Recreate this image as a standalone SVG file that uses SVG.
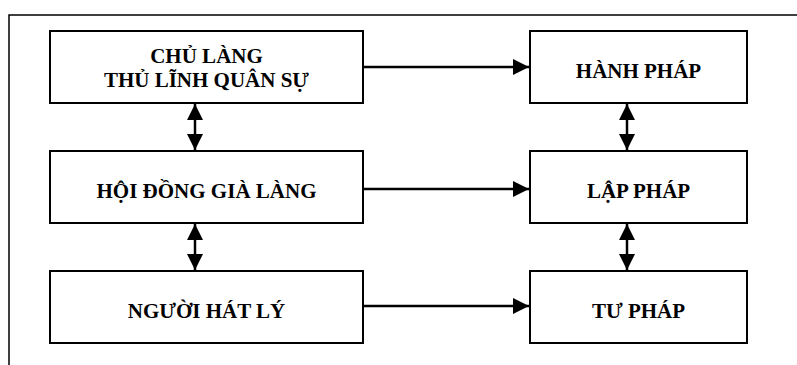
<svg xmlns="http://www.w3.org/2000/svg" width="797" height="365" viewBox="0 0 797 365">
<style>
.box{fill:#fff;stroke:#000;stroke-width:2}
.t{font-family:"Liberation Serif","Times New Roman",serif;font-weight:bold;font-size:21px;text-anchor:middle;fill:#000}
.c{stroke:#000;stroke-width:2.5;fill:none}
</style>
<defs>
<marker id="ah" viewBox="0 0 10 10" refX="10" refY="5" markerWidth="6.4" markerHeight="6.4" markerUnits="strokeWidth" orient="auto-start-reverse">
<path d="M0,0 L10,5 L0,10 Z" fill="#000"/>
</marker>
</defs>
<g id="frame"><path d="M9,365 V15 H797" fill="none" stroke="#000" stroke-width="1.5"/></g>
<g id="connectors">
<line class="c" x1="363" y1="67" x2="529" y2="67" marker-end="url(#ah)"/>
<line class="c" x1="363" y1="189" x2="529" y2="189" marker-end="url(#ah)"/>
<line class="c" x1="363" y1="306" x2="529" y2="306" marker-end="url(#ah)"/>
<line class="c" x1="195" y1="104" x2="195" y2="150" marker-start="url(#ah)" marker-end="url(#ah)"/>
<line class="c" x1="195" y1="224" x2="195" y2="270" marker-start="url(#ah)" marker-end="url(#ah)"/>
<line class="c" x1="627" y1="104" x2="627" y2="150" marker-start="url(#ah)" marker-end="url(#ah)"/>
<line class="c" x1="627" y1="224" x2="627" y2="270" marker-start="url(#ah)" marker-end="url(#ah)"/>
</g>
<g id="chu-lang"><rect class="box" x="50" y="31" width="313" height="72"/><text class="t" x="206.5" y="63">CHỦ LÀNG</text><text class="t" x="206.5" y="87">THỦ LĨNH QUÂN SỰ</text></g>
<g id="hoi-dong"><rect class="box" x="50" y="151" width="313" height="72"/><text class="t" x="206.5" y="198">HỘI ĐỒNG GIÀ LÀNG</text></g>
<g id="nguoi-hat-ly"><rect class="box" x="50" y="271" width="313" height="72"/><text class="t" x="206.5" y="318">NGƯỜI HÁT LÝ</text></g>
<g id="hanh-phap"><rect class="box" x="530" y="31" width="217" height="72"/><text class="t" x="638.5" y="78">HÀNH PHÁP</text></g>
<g id="lap-phap"><rect class="box" x="530" y="151" width="217" height="72"/><text class="t" x="638.5" y="198">LẬP PHÁP</text></g>
<g id="tu-phap"><rect class="box" x="530" y="271" width="217" height="72"/><text class="t" x="638.5" y="318">TƯ PHÁP</text></g>
</svg>
